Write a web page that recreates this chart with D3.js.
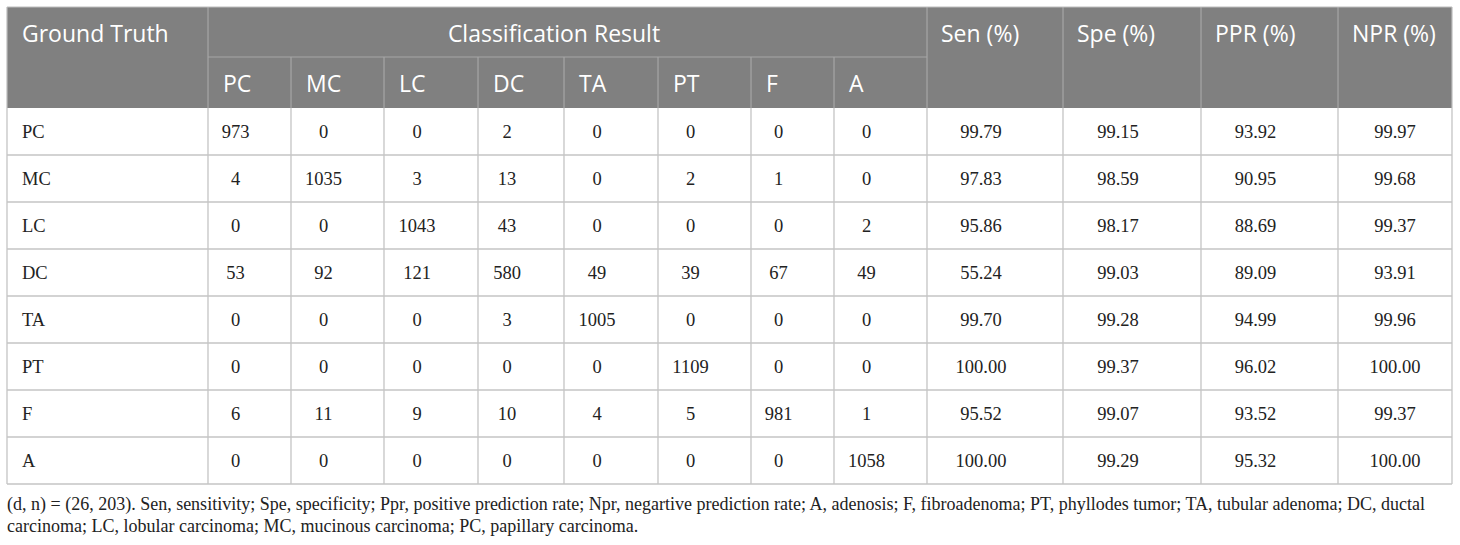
<!DOCTYPE html>
<html><head><meta charset="utf-8">
<script src="https://cdn.jsdelivr.net/npm/d3@7/dist/d3.min.js"></script>
<style>html,body{margin:0;padding:0;background:#fff;}svg{display:block;}</style>
</head><body>
<div id="chart"></div>
<script>
const classes = ["PC","MC","LC","DC","TA","PT","F","A"];
const metricLabels = ["Sen (%)","Spe (%)","PPR (%)","NPR (%)"];
const confusion = [
  [973,0,0,2,0,0,0,0],
  [4,1035,3,13,0,2,1,0],
  [0,0,1043,43,0,0,0,2],
  [53,92,121,580,49,39,67,49],
  [0,0,0,3,1005,0,0,0],
  [0,0,0,0,0,1109,0,0],
  [6,11,9,10,4,5,981,1],
  [0,0,0,0,0,0,0,1058]
];
const sen = ["99.79","97.83","95.86","55.24","99.70","100.00","95.52","100.00"];
const spe = ["99.15","98.59","98.17","99.03","99.28","99.37","99.07","99.29"];
const ppr = ["93.92","90.95","88.69","89.09","94.99","96.02","93.52","95.32"];
const npr = ["99.97","99.68","99.37","93.91","99.96","100.00","99.37","100.00"];
const captionLines = [
  "(d, n) = (26, 203). Sen, sensitivity; Spe, specificity; Ppr, positive prediction rate; Npr, negartive prediction rate; A, adenosis; F, fibroadenoma; PT, phyllodes tumor; TA, tubular adenoma; DC, ductal",
  "carcinoma; LC, lobular carcinoma; MC, mucinous carcinoma; PC, papillary carcinoma."
];

const W = 1460, H = 545;
const colEdges = [7,208,291,384,478,564,658,751,834,927,1063,1201,1338,1452];
const headTop = 7, headMid = 57, headBot = 108, bodyBot = 484;
const svg = d3.select("#chart").append("svg").attr("width", W).attr("height", H);

const rowScale = d3.scaleBand().domain(classes).range([headBot, bodyBot]);
const headFont = "'Open Sans', 'Noto Sans', sans-serif";
const bodyFont = "'Liberation Serif', 'Times New Roman', serif";

// header background
svg.append("rect").attr("x", colEdges[0]).attr("y", headTop)
  .attr("width", colEdges[13]-colEdges[0]).attr("height", headBot-headTop).attr("fill", "#808080");

// header grid lines
const hl = "#a6a6a6";
svg.append("line").attr("x1", colEdges[1]).attr("x2", colEdges[9]).attr("y1", headMid).attr("y2", headMid).attr("stroke", hl).attr("stroke-width", 1.2);
[1,9,10,11,12].forEach(i => svg.append("line").attr("x1", colEdges[i]).attr("x2", colEdges[i]).attr("y1", headTop).attr("y2", headBot).attr("stroke", hl).attr("stroke-width", 1.2));
for (let i = 2; i <= 8; i++) svg.append("line").attr("x1", colEdges[i]).attr("x2", colEdges[i]).attr("y1", headMid).attr("y2", headBot).attr("stroke", hl).attr("stroke-width", 1.2);

// header text
const ht = (t, x, y, anchor) => svg.append("text").attr("x", x).attr("y", y).attr("text-anchor", anchor || "start")
  .attr("fill", "#fff").attr("font-family", headFont).attr("font-size", 23).text(t);
ht("Ground Truth", colEdges[0] + 15, 42);
ht("Classification Result", 554, 42, "middle");
classes.forEach((c, i) => ht(c, colEdges[i+1] + 15, 92));
metricLabels.forEach((m, i) => ht(m, colEdges[i+9] + 14, 42));

// body grid
const bl = "#c4c4c4";
rowScale.domain().forEach(c => {
  const y = rowScale(c) + rowScale.bandwidth();
  svg.append("line").attr("x1", colEdges[0]).attr("x2", colEdges[13]).attr("y1", y).attr("y2", y).attr("stroke", bl).attr("stroke-width", 1.3);
});
colEdges.forEach(x => svg.append("line").attr("x1", x).attr("x2", x).attr("y1", headBot).attr("y2", bodyBot).attr("stroke", bl).attr("stroke-width", 1.3));
// outer top / left edges
svg.append("line").attr("x1", colEdges[0]).attr("x2", colEdges[13]).attr("y1", headTop).attr("y2", headTop).attr("stroke", "#bdbdbd").attr("stroke-width", 1.2);
svg.append("line").attr("x1", colEdges[0]).attr("x2", colEdges[0]).attr("y1", headTop).attr("y2", headBot).attr("stroke", "#bdbdbd").attr("stroke-width", 1.2);
svg.append("line").attr("x1", colEdges[13]).attr("x2", colEdges[13]).attr("y1", headTop).attr("y2", headBot).attr("stroke", "#bdbdbd").attr("stroke-width", 1.2);

// body text
const bt = (t, x, y, anchor) => svg.append("text").attr("x", x).attr("y", y).attr("text-anchor", anchor)
  .attr("fill", "#222").attr("font-family", bodyFont).attr("font-size", 18.5).text(t);
classes.forEach((c, r) => {
  const y = rowScale(c) + 30;
  bt(c, colEdges[0] + 15, y, "start");
  const cells = confusion[r].map(String).concat([sen[r], spe[r], ppr[r], npr[r]]);
  cells.forEach((v, j) => {
    const x0 = colEdges[j+1], x1 = colEdges[j+2];
    const off = (j === 11) ? 0 : -14;
    bt(v, (x0 + x1) / 2 + off, y, "middle");
  });
});

// caption
captionLines.forEach((l, i) => svg.append("text").attr("x", 7).attr("y", 510 + i * 22)
  .attr("fill", "#222").attr("font-family", bodyFont).attr("font-size", 18).text(l));
</script>
</body></html>
